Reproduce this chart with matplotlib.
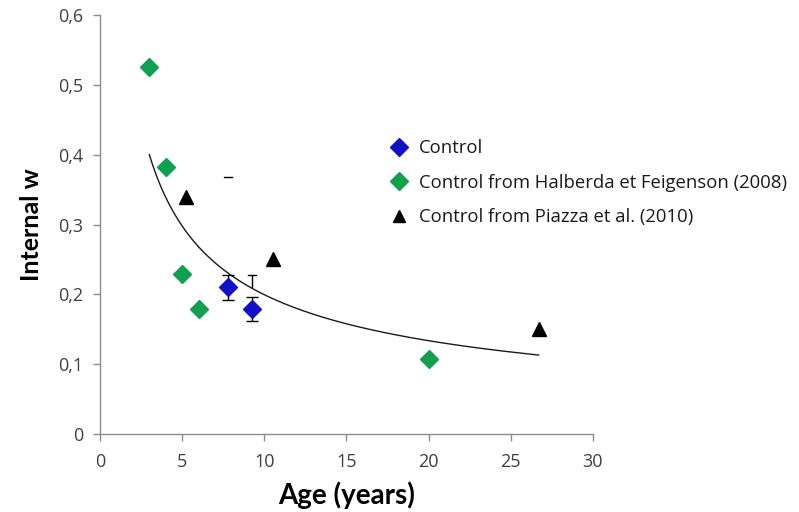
import numpy as np
import matplotlib
matplotlib.use("Agg")
import matplotlib.pyplot as plt
from matplotlib.ticker import FuncFormatter, MultipleLocator
from matplotlib.lines import Line2D

plt.rcParams['font.family'] = ['Open Sans', 'DejaVu Sans']

# Control group (mean and standard error)
control_age = [7.8, 9.25]
control_w = [0.21, 0.179]
control_err = [0.018, 0.017]

# Halberda & Feigenson (2008)
halberda_age = [3.0, 4.0, 5.0, 6.0, 20.0]
halberda_w = [0.525, 0.383, 0.229, 0.179, 0.108]

# Piazza et al. (2010)
piazza_age = [5.25, 10.5, 26.7]
piazza_w = [0.34, 0.25, 0.15]

# Leftover error-bar fragments
frag_age = [9.25, 7.8]
frag_lo = [0.21, 0.368]
frag_hi = [0.228, 0.368]

# Power-law trend line  w = a * age^b
trend_a = 0.755
trend_b = -0.578
trend_range = (3.0, 26.7)

fig = plt.figure(figsize=(7.99, 5.12), dpi=100)
ax = fig.add_axes([0.1252, 0.1523, 0.6168, 0.8184])

xs = np.linspace(trend_range[0], trend_range[1], 300)
ax.plot(xs, trend_a * xs ** trend_b, color='#1a1a1a', lw=1.0, zorder=2)

ax.errorbar(control_age, control_w, yerr=control_err, fmt='none',
            ecolor='black', elinewidth=1.0, capsize=4, capthick=1.0, zorder=3)
for x, lo, hi in zip(frag_age, frag_lo, frag_hi):
    ax.plot([x, x], [lo, hi], color='black', lw=1.0, zorder=3)
    ax.plot([x - 0.25, x + 0.25], [hi, hi], color='black', lw=1.0, zorder=3)

ax.plot(control_age, control_w, 'D', color='#1212C4', ms=9, mec='#1212C4', zorder=4)
ax.plot(halberda_age, halberda_w, 'D', color='#12A050', ms=9, mec='#12A050', zorder=4)
ax.plot(piazza_age, piazza_w, '^', color='black', ms=10, zorder=4)

ax.set_xlim(0, 30)
ax.set_ylim(0, 0.6)
ax.xaxis.set_major_locator(MultipleLocator(5))
ax.yaxis.set_major_locator(MultipleLocator(0.1))
ax.yaxis.set_major_formatter(FuncFormatter(
    lambda v, p: '0' if abs(v) < 1e-9 else f'{v:.1f}'.replace('.', ',')))

for s in ('top', 'right'):
    ax.spines[s].set_visible(False)
for s in ('left', 'bottom'):
    ax.spines[s].set_color('#8c8c8c')
    ax.spines[s].set_linewidth(1.0)
ax.tick_params(direction='out', length=5, width=1.0, color='#8c8c8c',
               labelsize=13, labelcolor='#404040')
ax.tick_params(axis='y', pad=7)
ax.tick_params(axis='x', pad=9)

ax.set_xlabel('Age (years)', fontsize=20, fontweight='bold', family='Lato',
              labelpad=7)
ax.set_ylabel('Internal w', fontsize=18, fontweight='bold', family='Lato',
              labelpad=11)

handles = [
    Line2D([], [], marker='D', color='#1212C4', ls='none', ms=9),
    Line2D([], [], marker='D', color='#12A050', ls='none', ms=9),
    Line2D([], [], marker='^', color='black', ls='none', ms=9),
]
labels = ['Control', 'Control from Halberda et Feigenson (2008)',
          'Control from Piazza et al. (2010)']
fig.legend(handles, labels, loc='upper left', bbox_to_anchor=(0.479, 0.742),
           frameon=False, fontsize=13.3, handlelength=1.0, handletextpad=0.55,
           labelspacing=0.88, borderaxespad=0, labelcolor='#1a1a1a')

fig.savefig('out.png', dpi=100)
